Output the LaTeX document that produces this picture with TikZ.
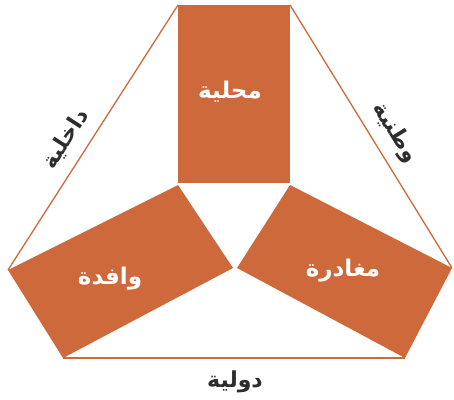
\documentclass[tikz,border=0pt]{standalone}
\usepackage{fontspec}
\newfontfamily\arabicfont[Script=Arabic]{DejaVu Sans}
\TeXXeTstate=1
\definecolor{rust}{RGB}{206,105,60}
\definecolor{labelgray}{RGB}{45,45,45}
\begin{document}
\begin{tikzpicture}[x=1pt,y=1pt,
  panel/.style={fill=rust,draw=none},
  edgeline/.style={draw=rust,line width=1.3pt},
  inlabel/.style={text=white,font=\arabicfont\bfseries\fontsize{23}{26}\selectfont,inner sep=0pt},
  outlabel/.style={text=labelgray,font=\arabicfont\bfseries\fontsize{22}{25}\selectfont,inner sep=0pt}]
\useasboundingbox (0,0) rectangle (454,399);
% corners
\coordinate (a1) at (178,394);
\coordinate (a2) at (290,394);
\coordinate (a3) at (290,216);
\coordinate (a4) at (178,216);
\coordinate (b1) at (8,129);
\coordinate (b2) at (178,214);
\coordinate (b3) at (233,131);
\coordinate (b4) at (63,41);
\coordinate (c1) at (290,214);
\coordinate (c2) at (452,131);
\coordinate (c3) at (405,41);
\coordinate (c4) at (237,131);
% panels
\fill[panel] (a1) -- (a2) -- (a3) -- (a4) -- cycle;
\fill[panel] (b1) -- (b2) -- (b3) -- (b4) -- cycle;
\fill[panel] (c1) -- (c2) -- (c3) -- (c4) -- cycle;
% triangle sides
\draw[edgeline] (a1) -- (b1);
\draw[edgeline] (a2) -- (c2);
\draw[edgeline] (b4) -- (c3);
% labels
\node[inlabel] (local) at (230,307) {\beginR محلية\endR};
\node[inlabel] (incoming) at (110,120) {\beginR وافدة\endR};
\node[inlabel] (outgoing) at (343,128) {\beginR مغادرة\endR};
\node[outlabel] (intl) at (235,17) {\beginR دولية\endR};
\node[outlabel,rotate=57.3] (internal) at (66,260) {\beginR داخلية\endR};
\node[outlabel,rotate=-58.4] (national) at (395,266) {\beginR وطنية\endR};
\end{tikzpicture}
\end{document}
